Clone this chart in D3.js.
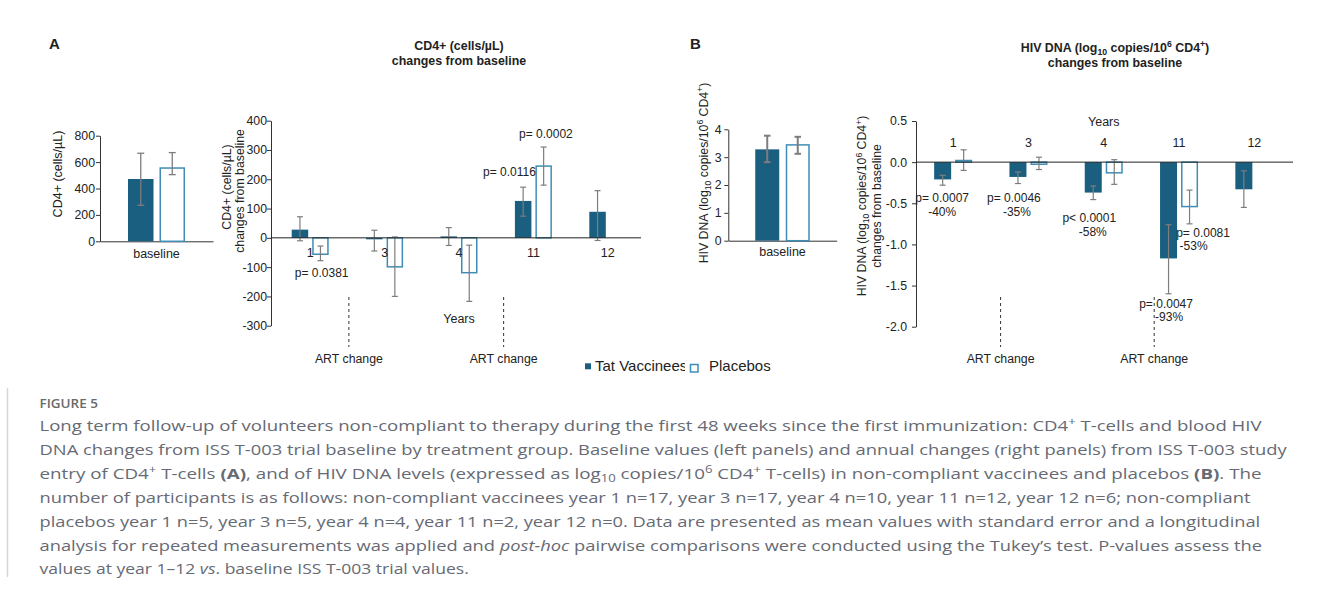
<!DOCTYPE html>
<html>
<head>
<meta charset="utf-8">
<script src="https://d3js.org/d3.v7.min.js"></script>
<style>
body { margin: 0; background: #fff; }
svg text { font-family: "Liberation Sans", Arial, sans-serif; fill: #222; }
.cap text { font-family: "Open Sans", Lato, sans-serif; fill: #666a74; }
</style>
</head>
<body>
<svg width="1331" height="589"></svg>
<script>
// ---- data ----
const groups = ["Tat Vaccinees", "Placebos"];
const years = ["1", "3", "4", "11", "12"];

// A: CD4+ baseline (cells/uL)
const cd4BaseMean = [472, 555];
const cd4BaseLo = [273, 505];
const cd4BaseHi = [667, 672];

// A: CD4+ changes from baseline
const cd4VacMean = [28, -5, 5, 126, 89];
const cd4VacLo = [-10, -45, -26, 74, -9];
const cd4VacHi = [72, 26, 35, 173, 161];
const cd4PlaMean = [-56, -99, -119, 245, null];
const cd4PlaLo = [-78, -200, -217, 180, null];
const cd4PlaHi = [-28, 3, -25, 310, null];

// B: HIV DNA baseline (log10 copies/10^6 CD4+)
const hivBaseMean = [3.28, 3.44];
const hivBaseLo = [2.82, 3.12];
const hivBaseHi = [3.77, 3.73];

// B: HIV DNA changes from baseline
const hivVacMean = [-0.21, -0.18, -0.37, -1.17, -0.33];
const hivVacLo = [-0.28, -0.26, -0.455, -1.60, -0.55];
const hivVacHi = [-0.16, -0.12, -0.29, -0.76, -0.105];
const hivPlaMean = [0.02, -0.025, -0.13, -0.54, null];
const hivPlaLo = [-0.10, -0.09, -0.27, -0.75, null];
const hivPlaHi = [0.15, 0.06, 0.03, -0.34, null];

// tick values
const cd4BaseTicks = [0, 200, 400, 600, 800];
const cd4ChangeTicks = [-300, -200, -100, 0, 100, 200, 300, 400];
const hivBaseTicks = [0, 1, 2, 3, 4];
const hivChangeTicks = [-2, -1.5, -1, -0.5, 0, 0.5];

// annotations: year, offset from group centre, value level, text
const cd4Notes = [
  ["1", 11.5, -120, "p= 0.0381"],
  ["11", -24, 225, "p= 0.0116"],
  ["11", 12.5, 356, "p= 0.0002"]
];
const hivNotes = [
  ["1", -11, -0.427, "p= 0.0007"], ["1", -11, -0.598, "-40%"],
  ["3", -14.5, -0.427, "p= 0.0046"], ["3", -11.5, -0.598, "-35%"],
  ["4", -14.5, -0.678, "p< 0.0001"], ["4", -11, -0.841, "-58%"],
  ["11", 24, -0.854, "p= 0.0081"], ["11", 14.5, -1.012, "-53%"],
  ["11", -13, -1.723, "p= 0.0047"], ["11", -10, -1.878, "-93%"]
];
// ART change markers: after which year, fraction of a step
const cd4Art = [["1", 0.52], ["4", 0.6]];
const hivArt = [["1", 0.63], ["4", 0.67]];

const vacColor = "#1a5f80", plaColor = "#3f8db5", errColor = "#7d7d7d";
const svg = d3.select("svg");

function rich(sel, segs, size) {
  let shift = 0;
  segs.forEach(([t, k]) => {
    const ts = sel.append("tspan").text(t);
    let target = 0;
    if (k === "sup") target = -size * 0.38;
    if (k === "sub") target = size * 0.25;
    if (target - shift !== 0) ts.attr("dy", target - shift);
    shift = target;
    if (k === "sup" || k === "sub") ts.style("font-size", (size * 0.7) + "px");
    if (k === "b") ts.style("font-weight", "bold");
    if (k === "i") ts.style("font-style", "italic");
  });
}

function yAxis(g, y, ticks, xPos, fmt, pad) {
  g.append("g")
    .attr("transform", `translate(${xPos},0)`)
    .call(d3.axisLeft(y).tickValues(ticks).tickSize(4).tickSizeOuter(0).tickPadding(pad).tickFormat(fmt))
    .call(a => a.attr("font-family", null).attr("font-size", null))
    .call(a => a.selectAll("path,line").attr("stroke", "#333"))
    .call(a => a.selectAll("text").style("font-size", "12.3px"));
}

function bars(g, x, y, sub, cats, mean, lo, hi, series, capW, errW) {
  const data = cats.map((c, i) => ({c, m: mean[i], lo: lo[i], hi: hi[i]})).filter(d => d.m != null);
  const pla = series === "Placebos";
  const bw = sub.bandwidth();
  const bx = d => x(d.c) + sub(series);
  g.selectAll(null).data(data).join("rect")
    .attr("x", d => bx(d) + (pla ? 0.75 : 0))
    .attr("width", bw - (pla ? 1.5 : 0))
    .attr("y", d => Math.min(y(d.m), y(0)))
    .attr("height", d => Math.abs(y(d.m) - y(0)))
    .attr("fill", pla ? "#fff" : vacColor)
    .attr("stroke", pla ? plaColor : "none")
    .attr("stroke-width", 1.5);
  const eg = g.selectAll(null).data(data).join("g").attr("stroke", errColor).attr("stroke-width", errW);
  eg.append("line").attr("x1", d => bx(d) + bw / 2).attr("x2", d => bx(d) + bw / 2)
    .attr("y1", d => y(d.hi)).attr("y2", d => y(d.lo));
  eg.append("line").attr("x1", d => bx(d) + bw / 2 - capW / 2).attr("x2", d => bx(d) + bw / 2 + capW / 2)
    .attr("y1", d => y(d.hi)).attr("y2", d => y(d.hi));
  eg.append("line").attr("x1", d => bx(d) + bw / 2 - capW / 2).attr("x2", d => bx(d) + bw / 2 + capW / 2)
    .attr("y1", d => y(d.lo)).attr("y2", d => y(d.lo));
}

function rotLabel(x, y, segs, size) {
  const t = svg.append("text").attr("text-anchor", "middle")
    .attr("transform", `translate(${x},${y}) rotate(-90)`).attr("dy", "0.35em")
    .style("font-size", size + "px");
  rich(t, segs, size);
}

function centerText(x, y, segs, size, bold) {
  const t = svg.append("text").attr("x", x).attr("y", y).attr("text-anchor", "middle")
    .style("font-size", size + "px").style("font-weight", bold ? "bold" : null);
  rich(t, segs, size);
}

function artMarks(x, list) {
  list.forEach(([after, f]) => {
    const px = x(after) + x.bandwidth() / 2 + f * x.step();
    svg.append("line").attr("x1", px).attr("x2", px).attr("y1", 297).attr("y2", 347)
      .attr("stroke", "#333").attr("stroke-dasharray", "3,3");
    centerText(px, 362.5, [["ART change", ""]], 12.3);
  });
}

const fmtInt = d => String(d);
const fmt1 = d => d.toFixed(1);

// ---------- Panel A, baseline ----------
{
  const x = d3.scaleBand().domain(["baseline"]).range([100, 213]);
  const y = d3.scaleLinear().domain([0, 800]).range([241.3, 135.7]);
  const sub = d3.scaleBand().domain(groups).range([0, x.bandwidth()]).paddingInner(0.19).paddingOuter(0.889);
  const g = svg.append("g");
  yAxis(g, y, cd4BaseTicks, 100, fmtInt, 1);
  g.append("g").attr("transform", `translate(0,${y(0)})`)
    .call(d3.axisBottom(x).tickSize(0).tickSizeOuter(0).tickPadding(8))
    .call(a => a.attr("font-family", null).attr("font-size", null))
    .call(a => a.select(".domain").attr("stroke", "#333"))
    .call(a => a.selectAll("text").style("font-size", "12.5px"));
  bars(g, x, y, sub, ["baseline"], [cd4BaseMean[0]], [cd4BaseLo[0]], [cd4BaseHi[0]], groups[0], 7, 1.3);
  bars(g, x, y, sub, ["baseline"], [cd4BaseMean[1]], [cd4BaseLo[1]], [cd4BaseHi[1]], groups[1], 7, 1.3);
  rotLabel(58, 174, [["CD4+ (cells/µL)", ""]], 12.5);
}

// ---------- Panel A, changes ----------
{
  const x = d3.scaleBand().domain(years).range([273, 645]);
  const y = d3.scaleLinear().domain([-300, 400]).range([325.7, 120.7]);
  const sub = d3.scaleBand().domain(groups).range([0, x.bandwidth()]).paddingInner(0.195).paddingOuter(0.912);
  const g = svg.append("g");
  yAxis(g, y, cd4ChangeTicks, 271, fmtInt, 0);
  bars(g, x, y, sub, years, cd4VacMean, cd4VacLo, cd4VacHi, groups[0], 6, 1.2);
  bars(g, x, y, sub, years, cd4PlaMean, cd4PlaLo, cd4PlaHi, groups[1], 6, 1.2);
  g.append("line").attr("x1", 271).attr("x2", 641).attr("y1", y(0)).attr("y2", y(0)).attr("stroke", "#222");
  g.append("g").attr("transform", `translate(0,${y(0)})`)
    .call(d3.axisBottom(x).tickSize(0).tickPadding(10.6))
    .call(a => a.attr("font-family", null).attr("font-size", null))
    .call(a => a.select(".domain").remove())
    .call(a => a.selectAll("text").style("font-size", "12.5px"));
  cd4Notes.forEach(([yr, dx, v, t]) =>
    centerText(x(yr) + x.bandwidth() / 2 + dx, y(v) + 4.3, [[t, ""]], 12));
  centerText((x.range()[0] + x.range()[1]) / 2, 322.5, [["Years", ""]], 12.5);
  artMarks(x, cd4Art);
  rotLabel(226.5, 187, [["CD4+ (cells/µL)", ""]], 12.3);
  rotLabel(240, 191, [["changes from baseline", ""]], 12.3);
  centerText(459, 49.5, [["CD4+ (cells/µL)", ""]], 12.4, true);
  centerText(459, 65, [["changes from baseline", ""]], 12.4, true);
}

// ---------- Panel B, baseline ----------
const hivLabel = [["HIV DNA (log", ""], ["10", "sub"], [" copies/10", ""], ["6", "sup"], [" CD4", ""], ["+", "sup"], [")", ""]];
{
  const x = d3.scaleBand().domain(["baseline"]).range([728.3, 836.7]);
  const y = d3.scaleLinear().domain([0, 4]).range([240.7, 129.3]);
  const sub = d3.scaleBand().domain(groups).range([0, x.bandwidth()]).paddingInner(0.213).paddingOuter(0.883);
  const g = svg.append("g");
  yAxis(g, y, hivBaseTicks, 728.3, fmtInt, 2.6);
  g.append("g").attr("transform", `translate(0,${y(0)})`)
    .call(d3.axisBottom(x).tickSize(0).tickSizeOuter(0).tickPadding(6.5))
    .call(a => a.attr("font-family", null).attr("font-size", null))
    .call(a => a.select(".domain").attr("stroke", "#333"))
    .call(a => a.selectAll("text").style("font-size", "12.5px"));
  bars(g, x, y, sub, ["baseline"], [hivBaseMean[0]], [hivBaseLo[0]], [hivBaseHi[0]], groups[0], 6.5, 2);
  bars(g, x, y, sub, ["baseline"], [hivBaseMean[1]], [hivBaseLo[1]], [hivBaseHi[1]], groups[1], 6.5, 2);
  rotLabel(703.5, 173, hivLabel, 12.3);
}

// ---------- Panel B, changes ----------
{
  const x = d3.scaleBand().domain(years).range([915.5, 1292]);
  const y = d3.scaleLinear().domain([-2, 0.5]).range([326.7, 121]);
  const sub = d3.scaleBand().domain(groups).range([0, x.bandwidth()]).paddingInner(0.19).paddingOuter(0.888);
  const g = svg.append("g");
  yAxis(g, y, hivChangeTicks, 916, fmt1, 5);
  bars(g, x, y, sub, years, hivVacMean, hivVacLo, hivVacHi, groups[0], 6, 1.2);
  bars(g, x, y, sub, years, hivPlaMean, hivPlaLo, hivPlaHi, groups[1], 6, 1.2);
  g.append("line").attr("x1", 916).attr("x2", 1293).attr("y1", y(0)).attr("y2", y(0)).attr("stroke", "#222");
  g.append("g").attr("transform", `translate(0,${y(0)})`)
    .call(d3.axisTop(x).tickSize(0).tickPadding(15))
    .call(a => a.attr("font-family", null).attr("font-size", null))
    .call(a => a.select(".domain").remove())
    .call(a => a.selectAll("text").style("font-size", "12.5px"));
  hivNotes.forEach(([yr, dx, v, t]) =>
    centerText(x(yr) + x.bandwidth() / 2 + dx, y(v) + 4.3, [[t, ""]], 12));
  centerText((x.range()[0] + x.range()[1]) / 2, 126, [["Years", ""]], 12.5);
  artMarks(x, hivArt);
  rotLabel(862, 206, hivLabel, 12.3);
  rotLabel(877, 206, [["changes from baseline", ""]], 12.3);
  centerText(1115, 51.5, hivLabel, 12.4, true);
  centerText(1115, 66.8, [["changes from baseline", ""]], 12.4, true);
}

// panel letters
svg.append("text").attr("x", 49).attr("y", 49).style("font-size", "15px").style("font-weight", "bold").text("A");
svg.append("text").attr("x", 690).attr("y", 49).style("font-size", "15px").style("font-weight", "bold").text("B");

// legend
svg.append("clipPath").attr("id", "legclip").append("rect").attr("x", 580).attr("y", 350).attr("width", 105).attr("height", 30);
svg.append("rect").attr("x", 585).attr("y", 363.3).attr("width", 6).attr("height", 6).attr("fill", vacColor);
svg.append("text").attr("x", 595).attr("y", 370.8).attr("clip-path", "url(#legclip)")
  .style("font-size", "15px").text(groups[0]);
svg.append("rect").attr("x", 690.5).attr("y", 364.5).attr("width", 7.5).attr("height", 7.5)
  .attr("fill", "#fff").attr("stroke", plaColor).attr("stroke-width", 1.5);
svg.append("text").attr("x", 709).attr("y", 370.8).style("font-size", "15px").text(groups[1]);

// caption
const cap = svg.append("g").attr("class", "cap");
svg.append("line").attr("x1", 7.5).attr("x2", 7.5).attr("y1", 388).attr("y2", 577)
  .attr("stroke", "#d6d6d6").attr("stroke-width", 1.5);
cap.append("text").attr("transform", "translate(39.5,408) scale(1.08,1)").style("font-size", "12.5px")
  .style("font-weight", "600").style("fill", "#6a6a6a").text("FIGURE 5");
const capLines = [
  [["Long term follow-up of volunteers non-compliant to therapy during the first 48 weeks since the first immunization: CD4", ""], ["+", "sup"], [" T-cells and blood HIV", ""]],
  [["DNA changes from ISS T-003 trial baseline by treatment group. Baseline values (left panels) and annual changes (right panels) from ISS T-003 study", ""]],
  [["entry of CD4", ""], ["+", "sup"], [" T-cells ", ""], ["(A)", "b"], [", and of HIV DNA levels (expressed as log", ""], ["10", "sub"], [" copies/10", ""], ["6", "sup"], [" CD4", ""], ["+", "sup"], [" T-cells) in non-compliant vaccinees and placebos ", ""], ["(B)", "b"], [". The", ""]],
  [["number of participants is as follows: non-compliant vaccinees year 1 n=17, year 3 n=17, year 4 n=10, year 11 n=12, year 12 n=6; non-compliant", ""]],
  [["placebos year 1 n=5, year 3 n=5, year 4 n=4, year 11 n=2, year 12 n=0. Data are presented as mean values with standard error and a longitudinal", ""]],
  [["analysis for repeated measurements was applied and ", ""], ["post-hoc", "i"], [" pairwise comparisons were conducted using the Tukey’s test. P-values assess the", ""]],
  [["values at year 1–12 ", ""], ["vs", "i"], [". baseline ISS T-003 trial values.", ""]]
];
const capEnds = [1263, 1288, 1262, 1252, 1261, 1263, 469];
capLines.forEach((segs, i) => {
  const t = cap.append("text").style("font-size", "14.5px");
  rich(t, segs, 14.5);
  const len = t.node().getComputedTextLength();
  const sx = (capEnds[i] - 39.5) / len;
  t.attr("transform", `translate(39.5,${431 + i * 23.9}) scale(${sx},1)`);
});
</script>
</body>
</html>
